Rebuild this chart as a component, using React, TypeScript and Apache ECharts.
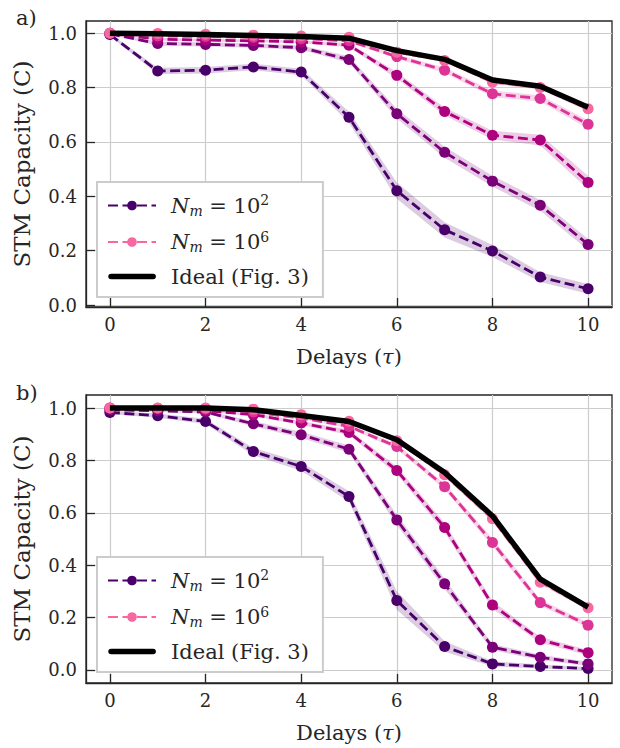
import React, { useEffect, useRef } from "react";
import * as echarts from "echarts";

// ---------- data ----------
const delays = [0, 1, 2, 3, 4, 5, 6, 7, 8, 9, 10];
const xTicks = [0, 2, 4, 6, 8, 10];
const yTicks = [0, 0.2, 0.4, 0.6, 0.8, 1.0];
const seriesNames = ["N_m = 10^2", "N_m = 10^3", "N_m = 10^4", "N_m = 10^5", "N_m = 10^6"];
const idealName = "Ideal (Fig. 3)";
const colors = ["#49006a", "#7a0177", "#ae017e", "#dd3497", "#f768a1"];
const bandColors = [
  "rgba(73,0,106,0.2)",
  "rgba(122,1,119,0.2)",
  "rgba(174,1,126,0.2)",
  "rgba(221,52,151,0.2)",
  "rgba(247,104,161,0.2)",
];

// panel a)
const aIdeal = [1.0, 0.998, 0.995, 0.992, 0.988, 0.982, 0.936, 0.904, 0.828, 0.805, 0.728];
const aS1 = [0.995, 0.861, 0.864, 0.876, 0.857, 0.691, 0.421, 0.277, 0.199, 0.103, 0.06];
const aS2 = [0.998, 0.962, 0.959, 0.955, 0.947, 0.903, 0.704, 0.562, 0.456, 0.367, 0.223];
const aS3 = [1.0, 0.978, 0.975, 0.972, 0.968, 0.956, 0.845, 0.712, 0.625, 0.607, 0.451];
const aS4 = [1.0, 0.99, 0.988, 0.985, 0.98, 0.972, 0.914, 0.864, 0.777, 0.76, 0.665];
const aS5 = [1.0, 0.999, 0.996, 0.993, 0.99, 0.985, 0.93, 0.9, 0.82, 0.8, 0.722];
const aE1 = [0.005, 0.012, 0.012, 0.012, 0.012, 0.02, 0.03, 0.028, 0.022, 0.018, 0.018];
const aE2 = [0.003, 0.008, 0.008, 0.008, 0.008, 0.012, 0.018, 0.02, 0.02, 0.02, 0.02];
const aE3 = [0.002, 0.005, 0.005, 0.005, 0.005, 0.008, 0.012, 0.015, 0.016, 0.02, 0.025];
const aE4 = [0.001, 0.003, 0.003, 0.003, 0.003, 0.005, 0.008, 0.01, 0.012, 0.012, 0.015];
const aE5 = [0.001, 0.002, 0.002, 0.002, 0.002, 0.003, 0.005, 0.006, 0.008, 0.008, 0.01];

// panel b)
const bIdeal = [1.0, 1.0, 1.0, 0.994, 0.972, 0.949, 0.879, 0.754, 0.588, 0.347, 0.24];
const bS1 = [0.983, 0.971, 0.949, 0.834, 0.777, 0.662, 0.265, 0.089, 0.023, 0.013, 0.005];
const bS2 = [0.993, 0.99, 0.985, 0.94, 0.898, 0.843, 0.573, 0.329, 0.087, 0.048, 0.023];
const bS3 = [0.999, 0.996, 0.99, 0.975, 0.943, 0.907, 0.762, 0.544, 0.248, 0.115, 0.066];
const bS4 = [1.0, 0.999, 0.997, 0.985, 0.962, 0.93, 0.853, 0.7, 0.487, 0.257, 0.171];
const bS5 = [1.0, 1.0, 1.0, 0.996, 0.975, 0.95, 0.875, 0.745, 0.577, 0.335, 0.237];
const bE1 = [0.006, 0.008, 0.01, 0.014, 0.016, 0.02, 0.035, 0.02, 0.01, 0.008, 0.006];
const bE2 = [0.004, 0.005, 0.006, 0.01, 0.012, 0.014, 0.02, 0.02, 0.012, 0.01, 0.008];
const bE3 = [0.002, 0.003, 0.004, 0.006, 0.008, 0.01, 0.015, 0.018, 0.015, 0.012, 0.01];
const bE4 = [0.001, 0.002, 0.002, 0.004, 0.005, 0.007, 0.01, 0.012, 0.015, 0.012, 0.01];
const bE5 = [0.001, 0.001, 0.001, 0.002, 0.003, 0.004, 0.006, 0.008, 0.01, 0.01, 0.008];

const panels = [
  { label: "a)", ideal: aIdeal, series: [aS1, aS2, aS3, aS4, aS5], errs: [aE1, aE2, aE3, aE4, aE5], yMin: -0.007, yMax: 1.045 },
  { label: "b)", ideal: bIdeal, series: [bS1, bS2, bS3, bS4, bS5], errs: [bE1, bE2, bE3, bE4, bE5], yMin: -0.05, yMax: 1.05 },
];

// ---------- layout ----------
const FONT = "DejaVu Serif";
const TXT = "#262626";
const GRIDS = [
  { left: 86, top: 21, width: 526, height: 286 },
  { left: 86, top: 395, width: 526, height: 288 },
];
const LEGEND_TOPS = [182, 557];
const LABEL_Y = [7, 382];

function legendFormatter(name: string) {
  if (name === idealName) return "{t|" + idealName + "}";
  const exp = name.slice(-1);
  return "{it|N}{sub|m}{t| = 10}{sup|" + exp + "}";
}

export default function App() {
  const ref = useRef<HTMLDivElement>(null);
  useEffect(() => {
    document.body.style.margin = "0";
    if (!ref.current) return;
    const chart = echarts.init(ref.current, undefined, { renderer: "svg" });

    const grid: any[] = [];
    const xAxis: any[] = [];
    const yAxis: any[] = [];
    const series: any[] = [];
    const legend: any[] = [];
    const graphic: any[] = [];

    panels.forEach((p, pi) => {
      grid.push({
        ...GRIDS[pi],
        show: true,
        borderColor: TXT,
        borderWidth: 1.3,
        backgroundColor: "#fff",
        containLabel: false,
      });
      xAxis.push({
        type: "value",
        gridIndex: pi,
        min: -0.5,
        max: 10.5,
        name: "Delays ({i|τ})",
        nameLocation: "middle",
        nameGap: 39,
        nameTextStyle: {
          fontFamily: FONT,
          fontSize: 21,
          color: TXT,
          rich: { i: { fontFamily: FONT, fontSize: 21, fontStyle: "italic", color: TXT } },
        },
        axisLine: { show: true, onZero: false, lineStyle: { color: TXT, width: 1.3 } },
        axisTick: { show: true, inside: true, length: 9, customValues: xTicks, lineStyle: { color: TXT, width: 1.3 } },
        axisLabel: { customValues: xTicks, fontFamily: FONT, fontSize: 18, color: TXT, margin: 8 },
        splitLine: { show: true, lineStyle: { color: "#cccccc", width: 1.2 } },
      });
      yAxis.push({
        type: "value",
        gridIndex: pi,
        min: p.yMin,
        max: p.yMax,
        name: "STM Capacity (C)",
        nameLocation: "middle",
        nameGap: 53,
        nameTextStyle: { fontFamily: FONT, fontSize: 23, color: TXT },
        axisLine: { show: true, onZero: false, lineStyle: { color: TXT, width: 1.3 } },
        axisTick: { show: true, inside: true, length: 9, customValues: yTicks, lineStyle: { color: TXT, width: 1.3 } },
        axisLabel: {
          customValues: yTicks,
          fontFamily: FONT,
          fontSize: 18,
          color: TXT,
          margin: 9,
          formatter: (v: number) => v.toFixed(1),
        },
        splitLine: { show: true, lineStyle: { color: "#cccccc", width: 1.2 } },
      });

      // confidence bands, drawn through the axes' own coordinate mapping
      p.series.forEach((vals, si) => {
        const err = p.errs[si];
        series.push({
          type: "custom",
          name: "band" + pi + si,
          xAxisIndex: pi,
          yAxisIndex: pi,
          silent: true,
          z: 1,
          encode: { x: 0, y: 1 },
          data: delays.map((d, i) => [d, vals[i]]),
          renderItem: (params: any, api: any) => {
            if (params.dataIndex !== 0) return null;
            const upper = delays.map((d, i) => api.coord([d, vals[i] + err[i]]));
            const lower = delays.map((d, i) => api.coord([d, vals[i] - err[i]])).reverse();
            return {
              type: "polygon",
              shape: { points: upper.concat(lower) },
              style: { fill: bandColors[si] },
            };
          },
        });
      });
      // lines
      p.series.forEach((vals, si) => {
        series.push({
          type: "line",
          name: seriesNames[si],
          xAxisIndex: pi,
          yAxisIndex: pi,
          symbol: "circle",
          symbolSize: 11,
          itemStyle: { color: colors[si] },
          lineStyle: { color: colors[si], width: 2.8, type: [10, 4.5] },
          data: delays.map((d, i) => [d, vals[i]]),
          z: 2,
        });
      });
      series.push({
        type: "line",
        name: idealName,
        xAxisIndex: pi,
        yAxisIndex: pi,
        symbol: "none",
        itemStyle: { color: "#000" },
        lineStyle: { color: "#000", width: 5.5 },
        data: delays.map((d, i) => [d, p.ideal[i]]),
        z: 3,
      });

      legend.push({
        data: [
          { name: seriesNames[0] },
          { name: seriesNames[4] },
          {
            name: idealName,
            icon: "path://M0,0h0.01v0.01h-0.01z M3,3.2h42a2.8,2.8 0 0 1 0,5.6h-42a2.8,2.8 0 0 1 0,-5.6z M0,11.99h0.01v0.01h-0.01z",
            itemStyle: { color: "#000" },
          },
        ],
        orient: "vertical",
        left: 97,
        top: LEGEND_TOPS[pi],
        backgroundColor: "#fff",
        borderColor: "#cccccc",
        borderWidth: 2,
        borderRadius: 0,
        padding: [11, 14, 10, 10],
        itemWidth: 48,
        itemHeight: 12,
        itemGap: 12,
        selectedMode: false,
        formatter: legendFormatter,
        textStyle: {
          fontFamily: FONT,
          color: TXT,
          padding: [0, 0, 0, 10],
          rich: {
            t: { fontFamily: FONT, fontSize: 21, color: TXT },
            it: { fontFamily: FONT, fontSize: 21, fontStyle: "italic", color: TXT },
            sub: { fontFamily: FONT, fontSize: 14, fontStyle: "italic", color: TXT, padding: [10, 0, 0, 0] },
            sup: { fontFamily: FONT, fontSize: 14, color: TXT, padding: [0, 0, 11, 0] },
          },
        },
      });

      graphic.push({
        type: "text",
        left: 16,
        top: LABEL_Y[pi],
        style: { text: p.label, fontFamily: FONT, fontSize: 21, fill: TXT },
      });
    });

    chart.setOption({
      animation: false,
      backgroundColor: "#fff",
      grid,
      xAxis,
      yAxis,
      series,
      legend,
      graphic,
    });
    return () => chart.dispose();
  }, []);
  return <div ref={ref} style={{ width: 620, height: 748 }} />;
}
